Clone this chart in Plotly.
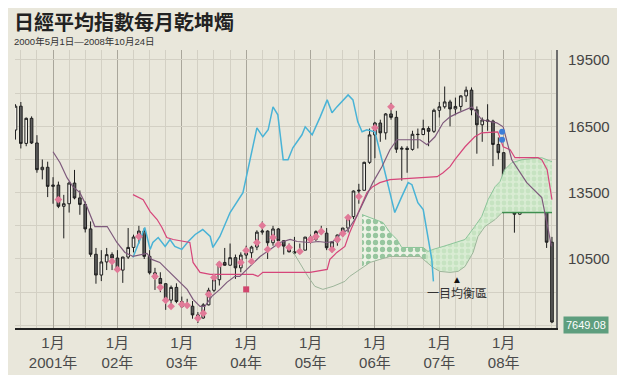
import numpy as np
import plotly.graph_objects as go

# ---------------- data (month index 0 = Jun 2000 ... 100 = Oct 2008) ----------------
months = list(range(101))
opens = [16332, 17411, 15727, 16861, 15747, 14539, 14648,
         13785, 13843, 12883, 12999, 13934, 13262, 12969, 11861, 10713, 9774, 10366, 10697,
         10542, 9997, 10587, 11024, 11492, 11763, 10621, 9877, 9619, 9383, 8640, 9215,
         8578, 8339, 8363, 7972, 7831, 8425, 9083, 9563, 10344, 10219, 10560, 10100,
         10677, 10783, 11041, 11715, 11762, 11236, 11858, 11326, 11082, 10824, 10771, 10899,
         11489, 11388, 11740, 11668, 11009, 11277, 11584, 11900, 12414, 13574, 13607, 14872,
         16111, 16650, 16205, 17060, 16906, 15467, 15505, 15457, 16141, 16128, 16399, 16274,
         17226, 17383, 17604, 17288, 17400, 17876, 18138, 17249, 16569, 16786, 16737, 15681,
         15308, 13592, 13604, 12526, 13850, 14339, 13482, 13377, 13073, 11260]
highs = [17500, 17600, 16900, 16950, 16100, 15000, 14900,
         14200, 14000, 13400, 14000, 14529, 13600, 13100, 12200, 11000, 10900, 11000, 10800,
         10900, 10600, 11900, 11600, 12000, 11900, 10900, 10100, 9900, 9400, 9300, 9400,
         8800, 8700, 8600, 8100, 8500, 9200, 9800, 10400, 11000, 11200, 10700, 10800,
         11100, 11100, 11800, 12195, 11800, 12000, 11900, 11300, 11200, 11500, 11200, 11500,
         11600, 11800, 12000, 11900, 11300, 11600, 11900, 12500, 13600, 13900, 14900, 16400,
         16700, 16800, 17100, 17563, 17200, 15600, 15600, 16300, 16400, 16800, 16500, 17300,
         17600, 18300, 17700, 17800, 17900, 18297, 18260, 17400, 16900, 17500, 16800, 16000,
         15300, 14000, 13700, 13900, 14400, 14600, 13600, 13500, 13200, 11500]
lows = [15900, 15500, 15600, 15700, 14400, 14100, 13300,
        13000, 12800, 11433, 12600, 13200, 12500, 11700, 10600, 9382, 9500, 10000, 10000,
        9900, 9420, 10500, 10800, 11200, 10500, 9800, 9100, 9000, 8200, 8300, 8500,
        8300, 8300, 7800, 7604, 7800, 8400, 9000, 9300, 10200, 10200, 9600, 9900,
        10500, 10300, 10900, 11600, 10500, 11100, 11000, 10700, 10800, 10700, 10800, 10900,
        11200, 11300, 11600, 10900, 10800, 11100, 11500, 11700, 12300, 13000, 13600, 14800,
        15059, 15800, 15900, 16800, 15300, 14045, 14400, 15400, 15500, 16100, 15600, 16200,
        16900, 17300, 16500, 17000, 17200, 17600, 17000, 15262, 15800, 16300, 14700, 15000,
        12573, 12900, 11691, 12500, 13600, 13400, 12700, 12700, 11000, 7600]
closes = [17411, 15727, 16861, 15747, 14539, 14648, 13785,
          13843, 12883, 12999, 13934, 13262, 12969, 11861, 10713, 9774, 10366, 10697, 10542,
          9997, 10587, 11024, 11492, 11763, 10621, 9877, 9619, 9383, 8640, 9215, 8578,
          8339, 8363, 7972, 7831, 8425, 9083, 9563, 10344, 10219, 10560, 10100, 10677,
          10783, 11041, 11715, 11762, 11236, 11858, 11326, 11082, 10824, 10771, 10899, 11489,
          11388, 11740, 11668, 11009, 11277, 11584, 11900, 12414, 13574, 13607, 14872, 16111,
          16650, 16205, 17060, 16906, 15467, 15505, 15457, 16141, 16128, 16399, 16274, 17226,
          17383, 17604, 17288, 17400, 17876, 18138, 17249, 16569, 16786, 16737, 15681, 15308,
          13592, 13604, 12526, 13850, 14339, 13482, 13377, 13073, 11260, 7649]

tenkan_m = [7.0, 8.3, 9.6, 10.7, 12.0, 13.3, 14.8, 17.1, 18.9, 20.4, 21.9, 24.5, 25.4, 26.9, 28.2,
            30.1, 32.0, 33.1, 34.4, 35.3, 36.6, 38.1, 39.4, 40.9, 41.8, 43.7, 45.6, 49.3, 51.2, 52.5,
            54.9, 56.4, 58.1, 59.2, 60.5, 62.0, 63.6, 65.1, 66.6, 68.3, 69.8, 71.1, 73.0, 75.4, 76.7,
            78.2, 79.7, 81.0, 82.5, 83.8, 85.1, 86.9, 89.7, 90.9, 92.5, 95.3, 98.1, 99.3, 99.9]
tenkan_v = [15351, 14855, 14178, 13772, 13502, 12870, 11968, 11968, 11247, 10796, 10615, 10751, 10480,
            10345, 10029, 9578, 9127, 8676, 8360, 8360, 8811, 9127, 9443, 9713, 9713, 10164, 10615,
            11247, 11382, 11292, 11247, 11292, 11247, 11292, 11608, 11833, 12419, 13186, 13953, 14674,
            15441, 15892, 15892, 15892, 15667, 16027, 16659, 16929, 17110, 17245, 17380, 16794, 16659,
            16478, 14990, 13953, 13276, 11833, 11066]

kijun_m = [21.9, 23.8, 25.1, 26.4, 27.3, 28.2, 29.4, 32.0, 32.5, 33.1, 34.4, 36.3, 44.3, 45.2, 46.1,
           54.9, 58.1, 58.6, 59.9, 61.4, 62.3, 65.5, 66.6, 67.9, 69.8, 78.6, 79.7, 81.0, 81.9, 83.8,
           85.6, 86.9, 89.9, 90.9, 92.2, 93.1, 97.4, 98.1, 99.1, 100.0]
kijun_v = [13412, 13186, 12645, 12284, 11923, 11472, 11382, 11292, 11247, 10345, 9894, 9804, 9804,
           9713, 9894, 9894, 10029, 10480, 10796, 11066, 11698, 13502, 13772, 13953, 14088, 14223,
           14404, 14674, 14990, 15576, 16027, 16208, 16253, 15576, 15441, 15080, 15080, 14990, 14539,
           13186]

chikou_m = [21.9, 23.2, 24.1, 25.1, 25.6, 26.6, 27.9, 28.8, 29.7, 31.0, 32.2, 33.5, 34.9, 36.3, 36.8,
            38.1, 40.0, 42.4, 45.0, 46.1, 47.1, 48.0, 48.9, 49.9, 50.8, 51.7, 53.4, 54.0, 55.3, 56.8,
            58.1, 59.0, 59.9, 62.0, 62.9, 63.8, 64.6, 65.5, 67.0, 68.3, 69.4, 70.7, 72.0, 73.2, 73.9,
            75.0, 76.0, 76.9, 77.6, 77.9]
chikou_v = [10570, 11382, 11923, 10931, 11247, 11472, 11066, 11382, 11066, 10931, 11292, 11608, 11833,
            11517, 11021, 11517, 12600, 13498, 16433, 16027, 16343, 17380, 17020, 14990, 14990, 15531,
            16118, 16478, 16118, 16929, 17696, 17110, 17380, 17922, 17696, 16704, 16253, 16343, 16253,
            14990, 13953, 12600, 13321, 13953, 13862, 13050, 12735, 11517, 10480, 9488]

spana_m = [64.6, 66.1, 67.4, 68.5, 69.8, 71.1, 72.0, 76.0, 76.9, 77.8, 79.7, 81.9, 83.8, 85.6, 86.9,
           88.1, 89.4, 90.3, 91.2, 92.5, 94.4, 98.1, 100.0]
spana_v = [12510, 12374, 12284, 12149, 11698, 11382, 11021, 11021, 10841, 10931, 11066, 11247, 11382,
           11968, 12419, 13186, 13772, 13998, 14539, 14855, 14990, 15080, 14900]
spanb_m = [51.7, 54.5, 55.8, 57.3, 59.2, 61.4, 62.3, 64.2, 66.1, 67.9, 69.8, 75.4, 77.8, 79.1, 81.0,
           82.5, 83.8, 85.3, 86.2, 87.5, 89.4, 90.7, 100.0]
spanb_v = [10841, 9713, 9263, 9127, 9263, 9488, 9713, 10029, 10345, 10480, 10615, 10615, 10119, 9939,
           9894, 9939, 10164, 10796, 11517, 11968, 12284, 12600, 12600]

pink_m = [8, 18, 19, 23, 26, 27, 28, 29, 31, 32, 34, 35, 36, 37, 38, 42, 43, 44, 45, 46,
          47, 48, 49, 51, 53, 55, 56, 57, 59, 60, 61, 62, 64, 67, 70]
pink_v = [13186, 10390, 10030, 11517, 9713, 9217, 8631, 8360, 8450, 8405, 7819, 8045, 8902, 9668,
          10255, 10345, 10886, 10390, 11247, 12013, 10931, 11472, 11156, 11021, 10841, 11382, 11517,
          11743, 10931, 11382, 11653, 12374, 13321, 16433, 17380]
blue_m = [90.7, 90.7]
blue_v = [16253, 15892]
red_m = [43]
red_v = [9127]

tick_m = [7, 19, 31, 43, 55, 67, 79, 91]
tick_text = ["1月<br>2001年", "1月<br>02年", "1月<br>03年", "1月<br>04年",
             "1月<br>05年", "1月<br>06年", "1月<br>07年", "1月<br>08年"]
y_ticks = [10500, 13500, 16500, 19500]
y_minor = [7500, 9000, 12000, 15000, 18000]
last_value = "7649.08"

# ---------------- style ----------------
BEIGE = "#e9e7db"
GRID = "#d3d0c4"
YEARGRID = "#a9a69b"
FONT = "Liberation Sans, Noto Sans CJK TC, sans-serif"
CJK = "Noto Sans CJK TC, Liberation Sans, sans-serif"

# the page body has an 8px margin; positions below are given in screenshot pixels
OFF = 8
W, H = 625 - OFF, 383 - OFF
L, R, T, B = 15 - OFF, 556 - OFF, 50 - OFF, 328 - OFF


def px(x):
    return (x - OFF - L) / (R - L)


def py(y):
    return (B - (y - OFF)) / (B - T)


fig = go.Figure()

split = 76.5


def seg(mx, vx, lo, hi):
    mx = np.array(mx)
    vx = np.array(vx)
    inner = [(m, v) for m, v in zip(mx, vx) if lo < m < hi]
    xs = [lo] + [p[0] for p in inner] + [hi]
    ys = [float(np.interp(lo, mx, vx))] + [p[1] for p in inner] + [float(np.interp(hi, mx, vx))]
    return xs, ys


for (lo, hi, fg, bg, sz, sol) in [(64.6, split, "#3f9a58", "#eef3e6", 7, 0.45),
                                  (split, 100.0, "#b3d9b0", "#d9ecd3", 6, 0.5)]:
    bx, by = seg(spanb_m, spanb_v, lo, hi)
    ax, ay = seg(spana_m, spana_v, lo, hi)
    fig.add_trace(go.Scatter(x=bx, y=by, mode="lines", line=dict(width=0, color="rgba(0,0,0,0)"),
                             hoverinfo="skip", showlegend=False))
    fig.add_trace(go.Scatter(x=ax, y=ay, mode="lines", line=dict(width=0, color="rgba(0,0,0,0)"),
                             fill="tonexty", fillcolor=bg,
                             fillpattern=dict(shape=".", fgcolor=fg, bgcolor=bg, size=sz, solidity=sol),
                             hoverinfo="skip", showlegend=False))

fig.add_trace(go.Scatter(x=spanb_m, y=spanb_v, mode="lines", line=dict(color="#9db59a", width=1),
                         hoverinfo="skip", showlegend=False))
fig.add_trace(go.Scatter(x=spanb_m[-2:], y=spanb_v[-2:], mode="lines", line=dict(color="#3f8f4f", width=1.5),
                         hoverinfo="skip", showlegend=False))
fig.add_trace(go.Scatter(x=spana_m, y=spana_v, mode="lines", line=dict(color="#8cc59a", width=1),
                         hoverinfo="skip", showlegend=False))

fig.add_trace(go.Scatter(x=chikou_m, y=chikou_v, mode="lines", line=dict(color="#49b3d6", width=1.5),
                         hoverinfo="skip", showlegend=False))
fig.add_trace(go.Scatter(x=kijun_m, y=kijun_v, mode="lines", line=dict(color="#d6457a", width=1.2),
                         hoverinfo="skip", showlegend=False))
fig.add_trace(go.Scatter(x=tenkan_m, y=tenkan_v, mode="lines", line=dict(color="#7e5a7c", width=1.2),
                         hoverinfo="skip", showlegend=False))

fig.add_trace(go.Candlestick(x=months, open=opens, high=highs, low=lows, close=closes,
                             increasing=dict(line=dict(color="#1e1e1e", width=1), fillcolor="#f3f1ea"),
                             decreasing=dict(line=dict(color="#1e1e1e", width=1), fillcolor="#5e5e5e"),
                             whiskerwidth=0, hoverinfo="skip", showlegend=False))

fig.add_trace(go.Scatter(x=pink_m, y=pink_v, mode="markers",
                         marker=dict(symbol="diamond", size=6, color="#e17a98"),
                         hoverinfo="skip", showlegend=False))
fig.add_trace(go.Scatter(x=blue_m, y=blue_v, mode="markers",
                         marker=dict(symbol="circle", size=6, color="#3c7ed8"),
                         hoverinfo="skip", showlegend=False))
fig.add_trace(go.Scatter(x=red_m, y=red_v, mode="markers",
                         marker=dict(symbol="square", size=6, color="#d2466e"),
                         hoverinfo="skip", showlegend=False))

quarter = [m for m in range(1, 101, 3) if m not in tick_m]

fig.update_layout(
    width=W, height=H,
    margin=dict(l=L, r=W - R, t=T, b=H - B, pad=0),
    paper_bgcolor="white", plot_bgcolor="rgba(0,0,0,0)",
    font=dict(family=FONT, color="#444"),
    xaxis=dict(range=[-0.09, 100.75], tickmode="array", tickvals=tick_m, ticktext=tick_text,
               showgrid=True, gridcolor=YEARGRID, gridwidth=1, zeroline=False,
               showline=True, linecolor="#222", linewidth=2, ticks="",
               tickfont=dict(size=15, color="#4a4a4a", family=FONT),
               minor=dict(tickmode="array", tickvals=quarter, showgrid=True, gridcolor=GRID, gridwidth=1, ticks=""),
               rangeslider=dict(visible=False), fixedrange=True, automargin=False),
    yaxis=dict(range=[7379, 19952], side="right", tickmode="array", tickvals=y_ticks,
               ticktext=[str(v) for v in y_ticks], showgrid=True, gridcolor=GRID, gridwidth=1,
               zeroline=False, showline=True, linecolor="#6e6e6e", linewidth=2, ticks="",
               ticklabelstandoff=7, tickfont=dict(size=15, color="#444", family=FONT),
               minor=dict(tickmode="array", tickvals=y_minor, showgrid=True, gridcolor=GRID, gridwidth=1, ticks=""),
               fixedrange=True, automargin=False),
    shapes=[dict(type="rect", xref="paper", yref="paper", x0=px(5), x1=px(620), y0=py(375), y1=py(5),
                 fillcolor=BEIGE, line=dict(width=0), layer="below")],
    annotations=[
        dict(xref="paper", yref="paper", x=px(13), y=py(22), xanchor="left", yanchor="middle",
             text="<b>日經平均指數每月乾坤燭</b>", showarrow=False, borderpad=0,
             font=dict(family=CJK, size=20, color="#222")),
        dict(xref="paper", yref="paper", x=px(13), y=py(42), xanchor="left", yanchor="middle",
             text="2000年5月1日—2008年10月24日", showarrow=False, borderpad=0,
             font=dict(family=FONT, size=9.5, color="#333")),
        dict(xref="paper", yref="paper", x=px(563), y=py(324.5), xanchor="left", yanchor="middle",
             text=last_value, showarrow=False, bgcolor="#5e9e7e", borderpad=2,
             font=dict(family=FONT, size=11, color="white")),
        dict(xref="paper", yref="paper", x=px(457), y=py(279), xanchor="center", yanchor="middle",
             text="▲", showarrow=False, font=dict(family=FONT, size=10, color="#111")),
        dict(xref="paper", yref="paper", x=px(457), y=py(292), xanchor="center", yanchor="middle",
             text="一目均衡區", showarrow=False, font=dict(family=CJK, size=12, color="#333")),
    ],
)

fig.write_html("out.html")
